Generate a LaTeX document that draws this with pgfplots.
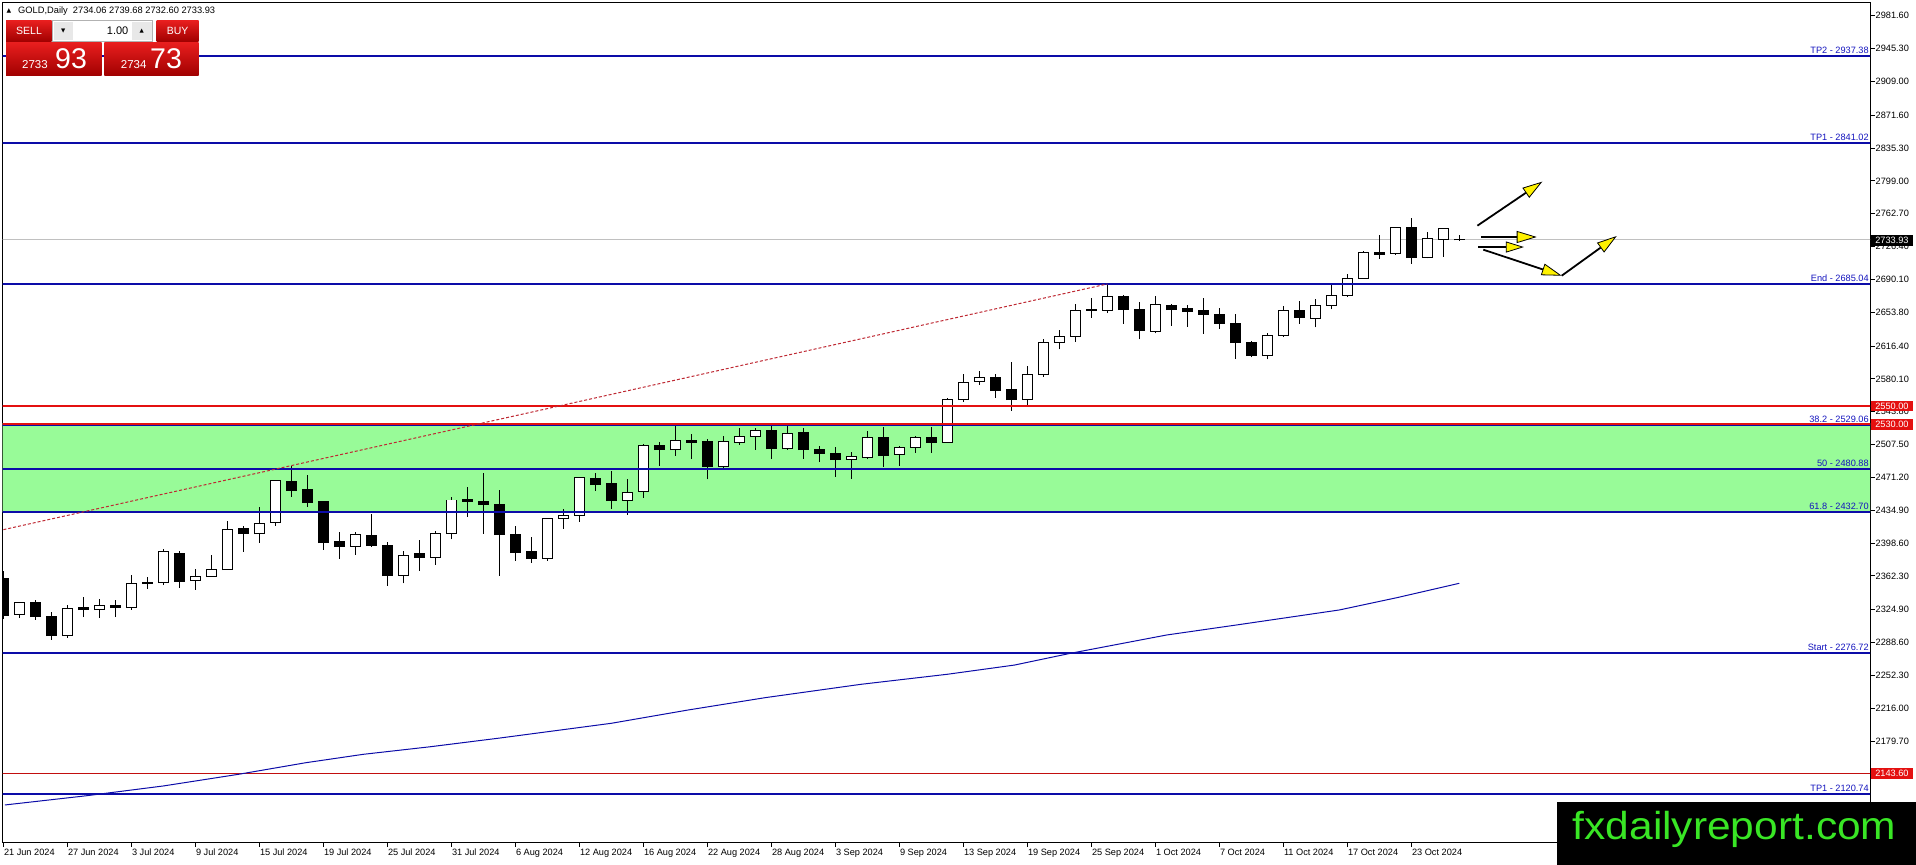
\documentclass[border=0pt]{standalone}
\usepackage{fontspec}
\setmainfont{Liberation Sans}
\newfontfamily\djv{DejaVu Sans}
\usepackage{graphicx}
\usepackage{pgfplots}
\pgfplotsset{compat=1.18}
\usepackage{pgfplotstable}
\usetikzlibrary{calc,arrows.meta}

\definecolor{lvlblue}{RGB}{12,12,168}
\definecolor{lbltxt}{RGB}{20,20,190}
\definecolor{lvlred}{RGB}{228,16,16}
\definecolor{zone}{RGB}{152,251,152}
\definecolor{trend}{RGB}{190,40,50}
\definecolor{wm}{RGB}{57,230,37}
\definecolor{btnTop}{RGB}{232,30,30}
\definecolor{btnBot}{RGB}{160,0,0}
\definecolor{bidgray}{RGB}{192,192,192}

\pgfplotstableread{
x o h l c
0 2358.9 2367.7 2314.6 2319.0
1 2319.8 2333.8 2316.1 2333.1
2 2333.1 2335.3 2313.9 2317.2
3 2317.6 2322.4 2291.8 2296.2
4 2296.2 2330.1 2294.0 2326.4
5 2326.8 2339.0 2316.8 2325.0
6 2325.0 2336.7 2316.1 2329.7
7 2330.1 2335.6 2316.8 2327.2
8 2327.2 2363.3 2325.0 2354.1
9 2355.5 2361.1 2348.2 2353.7
10 2354.8 2392.0 2352.2 2389.8
11 2387.6 2389.8 2349.3 2356.6
12 2357.0 2369.9 2347.1 2361.8
13 2361.4 2385.4 2361.4 2369.5
14 2369.2 2423.0 2369.2 2413.8
15 2414.9 2417.1 2389.1 2409.0
16 2409.0 2438.5 2399.0 2420.4
17 2421.5 2468.7 2417.8 2467.9
18 2467.2 2484.2 2449.9 2456.5
19 2457.3 2473.9 2438.5 2443.3
20 2444.0 2444.7 2391.3 2399.0
21 2400.5 2410.4 2381.3 2394.6
22 2395.0 2410.4 2385.8 2408.2
23 2407.1 2431.1 2394.6 2395.7
24 2396.1 2399.4 2351.5 2362.5
25 2362.9 2389.5 2354.1 2385.0
26 2386.5 2401.6 2368.1 2382.4
27 2382.8 2411.9 2374.7 2409.3
28 2409.3 2449.2 2402.7 2446.2
29 2447.3 2460.6 2427.8 2444.7
30 2444.7 2476.1 2409.0 2441.0
31 2441.4 2457.3 2362.5 2407.9
32 2408.2 2417.5 2378.8 2388.0
33 2389.5 2405.3 2376.9 2381.3
34 2381.3 2426.7 2378.8 2425.9
35 2425.9 2436.3 2414.5 2429.3
36 2429.3 2472.0 2422.3 2471.3
37 2470.2 2476.1 2456.5 2463.2
38 2463.9 2478.3 2436.3 2445.5
39 2445.8 2469.4 2430.0 2454.7
40 2455.8 2508.1 2448.8 2506.7
41 2507.0 2510.0 2484.2 2501.9
42 2501.9 2528.0 2495.2 2512.2
43 2512.2 2519.2 2491.9 2510.3
44 2511.1 2513.3 2469.1 2483.1
45 2483.1 2517.0 2481.2 2511.1
46 2510.0 2526.2 2507.4 2516.6
47 2516.6 2525.5 2501.5 2523.2
48 2523.2 2528.0 2491.9 2502.6
49 2503.0 2528.0 2501.5 2519.9
50 2520.3 2525.8 2491.9 2501.9
51 2502.2 2505.9 2488.2 2497.4
52 2497.8 2504.8 2472.0 2490.8
53 2491.2 2499.3 2469.8 2494.1
54 2493.0 2522.5 2491.9 2515.1
55 2515.5 2527.3 2483.1 2495.2
56 2496.7 2505.9 2484.2 2504.1
57 2504.4 2517.3 2498.5 2515.5
58 2515.5 2527.3 2498.5 2509.6
59 2510.0 2559.0 2510.0 2557.5
60 2557.1 2585.5 2554.9 2576.3
61 2577.4 2588.5 2573.7 2581.1
62 2581.1 2585.5 2559.4 2567.1
63 2568.6 2598.4 2545.0 2557.1
64 2557.1 2594.4 2550.5 2585.2
65 2584.8 2624.2 2582.6 2620.5
66 2620.5 2634.2 2612.8 2627.2
67 2627.2 2662.9 2621.3 2655.9
68 2655.9 2669.2 2647.8 2656.3
69 2655.9 2685.0 2652.9 2671.4
70 2671.4 2672.9 2641.2 2656.7
71 2657.0 2664.7 2623.9 2633.4
72 2632.7 2671.4 2630.5 2662.5
73 2661.4 2662.9 2638.9 2656.7
74 2657.4 2661.8 2637.9 2654.4
75 2655.2 2669.2 2630.1 2651.5
76 2651.7 2658.1 2635.8 2641.4
77 2641.9 2651.5 2602.5 2620.2
78 2620.5 2622.4 2604.0 2605.8
79 2605.8 2630.5 2601.7 2628.3
80 2627.9 2660.3 2626.8 2655.9
81 2655.9 2665.9 2641.2 2648.2
82 2647.4 2668.5 2637.1 2661.1
83 2661.4 2684.7 2657.0 2672.1
84 2672.5 2696.1 2670.7 2690.9
85 2690.9 2721.2 2690.9 2720.1
86 2720.1 2739.2 2713.1 2717.8
87 2719.0 2748.4 2717.5 2747.7
88 2747.7 2758.0 2707.2 2714.2
89 2714.5 2742.5 2713.4 2735.2
90 2734.4 2746.6 2715.3 2746.2
91 2734.06 2739.68 2732.60 2733.93
}\candles

\pgfplotstableread{
x ma
0.1 2109.0
5.2 2119.2
10 2130.0
14.7 2142.9
18.9 2155.7
22.5 2165.0
26.7 2173.4
30.9 2182.7
38 2199.3
42.8 2214.0
47.6 2227.6
53.6 2242.4
59 2253.5
63.2 2263.7
66.7 2276.7
72.7 2296.9
77.5 2309.1
83.5 2324.6
87.1 2338.2
91 2354.1
}\matable

\begin{document}
\begin{tikzpicture}
\begin{axis}[
  scale only axis, width=1867.5pt, height=840pt,
  xmin=-0.05, xmax=116.67, ymin=2067.5, ymax=2996.3,
  axis line style={black, line width=1pt},
  clip mode=individual,
  xtick={0,4,...,88},
  xticklabels={21 Jun 2024,27 Jun 2024,3 Jul 2024,9 Jul 2024,15 Jul 2024,19 Jul 2024,25 Jul 2024,31 Jul 2024,6 Aug 2024,12 Aug 2024,16 Aug 2024,22 Aug 2024,28 Aug 2024,3 Sep 2024,9 Sep 2024,13 Sep 2024,19 Sep 2024,25 Sep 2024,1 Oct 2024,7 Oct 2024,11 Oct 2024,17 Oct 2024,23 Oct 2024},
  xtick pos=bottom, ytick pos=right, yticklabel pos=right,
  tick align=outside, major tick length=4.5pt,
  tick style={black, line width=1pt},
  ytick={2981.60,2945.30,2909.00,2871.60,2835.30,2799.00,2762.70,2726.40,2690.10,2653.80,2616.40,2580.10,2543.80,2507.50,2471.20,2434.90,2398.60,2362.30,2324.90,2288.60,2252.30,2216.00,2179.70},
  yticklabels={2981.60,2945.30,2909.00,2871.60,2835.30,2799.00,2762.70,2726.40,2690.10,2653.80,2616.40,2580.10,2543.80,2507.50,2471.20,2434.90,2398.60,2362.30,2324.90,2288.60,2252.30,2216.00,2179.70},
  xticklabel style={anchor=north west, inner sep=0pt, xshift=0.5pt, yshift=-1.5pt, font=\fontsize{9.2}{10}\selectfont},
  yticklabel style={anchor=west, inner sep=0pt, xshift=1pt, font=\fontsize{9.2}{10}\selectfont},
]
% zone
\addplot[fill=zone, draw=none, forget plot] coordinates {(-2,2432.70) (120,2432.70) (120,2531.5) (-2,2531.5)} -- cycle;
% bid line
\addplot[bidgray, line width=1pt, forget plot] coordinates {(-2,2733.93) (120,2733.93)};
% wicks
\addplot[draw=none, mark=none, forget plot, error bars/.cd, y dir=plus, y explicit, error mark=none, error bar style={draw=black, line width=1pt}]
  table[x=x, y=l, y error plus expr={\thisrow{h}-\thisrow{l}}] {\candles};
% bodies (black outline / black fill)
\addplot[draw=none, mark=none, forget plot, error bars/.cd, y dir=plus, y explicit, error mark=none, error bar style={draw=black, line width=11pt}]
  table[x=x, y expr={min(\thisrow{o},\thisrow{c})-0.55}, y error plus expr={abs(\thisrow{c}-\thisrow{o})+1.1}] {\candles};
% white interiors for bullish candles
\addplot[draw=none, mark=none, forget plot, error bars/.cd, y dir=plus, y explicit, error mark=none, error bar style={draw=white, line width=9pt}]
  table[x=x, y expr={(\thisrow{c}-\thisrow{o}>1.6) ? (\thisrow{o}+0.55) : nan}, y error plus expr={\thisrow{c}-\thisrow{o}-1.1}] {\candles};
% levels
\addplot[lvlblue, line width=2pt, forget plot] coordinates {(-2,2937.38) (120,2937.38)};
\addplot[lvlblue, line width=2pt, forget plot] coordinates {(-2,2841.02) (120,2841.02)};
\addplot[lvlblue, line width=2pt, forget plot] coordinates {(-2,2685.04) (120,2685.04)};
\addplot[lvlred, line width=2pt, forget plot] coordinates {(-2,2550.00) (120,2550.00)};
\addplot[lvlblue, line width=2pt, forget plot] coordinates {(-2,2529.06) (120,2529.06)};
\addplot[lvlred, line width=2pt, forget plot] coordinates {(-2,2530.60) (120,2530.60)};
\addplot[lvlblue, line width=2pt, forget plot] coordinates {(-2,2480.88) (120,2480.88)};
\addplot[lvlblue, line width=2pt, forget plot] coordinates {(-2,2432.70) (120,2432.70)};
\addplot[lvlblue, line width=2pt, forget plot] coordinates {(-2,2276.72) (120,2276.72)};
\addplot[lvlred!85!black, line width=1pt, forget plot] coordinates {(-2,2143.60) (120,2143.60)};
\addplot[lvlblue, line width=2pt, forget plot] coordinates {(-2,2120.74) (120,2120.74)};
% moving average
\addplot[lvlblue, line width=1pt, forget plot] table[x=x, y=ma] {\matable};
% trend line
\addplot[trend, line width=1pt, dash pattern=on 3pt off 2pt, forget plot] coordinates {(-0.3,2412.2) (69,2685.04)};
% arrows
\addplot[black, line width=1.8pt, -{Triangle[length=20pt,width=12pt,fill=yellow,line width=0.8pt]}, forget plot] coordinates {(92.13,2749.5) (96.19,2798.2)};
\addplot[black, line width=1.8pt, -{Triangle[length=20pt,width=12pt,fill=yellow,line width=0.8pt]}, forget plot] coordinates {(92.36,2737.0) (95.84,2737.0)};
\addplot[black, line width=1.8pt, -{Triangle[length=18pt,width=11pt,fill=yellow,line width=0.8pt]}, forget plot] coordinates {(92.19,2725.9) (95.04,2725.9)};
\addplot[black, line width=1.8pt, -{Triangle[length=20pt,width=12pt,fill=yellow,line width=0.8pt]}, forget plot] coordinates {(92.5,2723.0) (97.4,2694.2)};
\addplot[black, line width=1.8pt, -{Triangle[length=20pt,width=12pt,fill=yellow,line width=0.8pt]}, forget plot] coordinates {(97.4,2694.2) (100.84,2738.1)};
% level labels
\begin{scope}[every node/.style={anchor=base east, inner sep=0pt, text=lbltxt, font=\fontsize{9.2}{10}\selectfont}]
\node[yshift=2.5pt] at (axis cs:116.6,2937.38) {TP2 - 2937.38};
\node[yshift=2.5pt] at (axis cs:116.6,2841.02) {TP1 - 2841.02};
\node[yshift=2.5pt] at (axis cs:116.6,2685.04) {End - 2685.04};
\node[yshift=2.5pt] at (axis cs:116.6,2529.06) {38.2 - 2529.06};
\node[yshift=2.5pt] at (axis cs:116.6,2480.88) {50 - 2480.88};
\node[yshift=2.5pt] at (axis cs:116.6,2432.70) {61.8 - 2432.70};
\node[yshift=2.5pt] at (axis cs:116.6,2276.72) {Start - 2276.72};
\node[yshift=2.5pt] at (axis cs:116.6,2120.74) {TP1 - 2120.74};
\end{scope}
\end{axis}
\pgfresetboundingbox
\path[use as bounding box] ($(current axis.north west)+(-2.5pt,2.5pt)$) rectangle ($(current axis.south east)+(46pt,-22.5pt)$);
\begin{scope}[shift={($(current axis.north west)+(-2.5pt,2.5pt)$)}, x=1pt, y=-1pt]
% price boxes on the right axis
\begin{scope}[every node/.style={anchor=west, inner xsep=0pt, inner ysep=0pt, minimum height=10.5pt, minimum width=42pt, text=white, font=\fontsize{9.2}{10}\selectfont}]
\node[fill=lvlred] at (1870.7,406.1) {2550.00};
\node[fill=lvlred] at (1870.7,424.6) {2530.00};
\node[fill=lvlred] at (1870.7,773.7) {2143.60};
\node[fill=black] at (1870.7,240.5) {2733.93};
\end{scope}
% header
\node[anchor=center, inner sep=0pt, font=\djv\fontsize{6}{6}\selectfont] at (9,10.5) {▲};
\node[anchor=west, inner sep=0pt, font=\fontsize{9.3}{10}\selectfont] at (18,11) {GOLD,Daily\ \ 2734.06 2739.68 2732.60 2733.93};
% trade panel
\shade[top color=btnTop, bottom color=btnBot] (6,20.7) rectangle (51.7,41.7);
\node[text=white, font=\fontsize{10.5}{12}\selectfont] at (29,31.2) {SELL};
\fill[white] (52.3,20.7) rectangle (152.7,41.7);
\draw[gray!60, line width=0.8pt] (52.3,20.7) rectangle (152.7,41.7);
\fill[gray!18] (53.5,22) rectangle (73,40.5);
\fill[gray!18] (132,22) rectangle (151.5,40.5);
\node[font=\djv\fontsize{5.5}{6}\selectfont] at (63.2,31.2) {▼};
\node[font=\djv\fontsize{5.5}{6}\selectfont] at (141.7,31.2) {▲};
\node[anchor=east, inner sep=0pt, font=\fontsize{11}{12}\selectfont] at (128.5,31.2) {1.00};
\shade[top color=btnTop, bottom color=btnBot] (156.7,20.7) rectangle (198.7,41.7);
\node[text=white, font=\fontsize{10.5}{12}\selectfont] at (177.7,31.2) {BUY};
\shade[top color=btnTop, bottom color=btnBot] (6,42.7) rectangle (101.7,75.7);
\node[anchor=base west, inner sep=0pt, text=white, font=\fontsize{11.5}{12}\selectfont] at (22,68.3) {2733};
\node[anchor=base west, inner sep=0pt, text=white, font=\fontsize{28.5}{30}\selectfont] at (55,68.3) {93};
\shade[top color=btnTop, bottom color=btnBot] (104.3,42.7) rectangle (198.7,75.7);
\node[anchor=base west, inner sep=0pt, text=white, font=\fontsize{11.5}{12}\selectfont] at (120.7,68.3) {2734};
\node[anchor=base west, inner sep=0pt, text=white, font=\fontsize{28.5}{30}\selectfont] at (150,68.3) {73};
% watermark
\fill[black] (1557.3,802) rectangle (1916,865);
\node[anchor=base, inner sep=0pt, text=wm, font=\fontsize{39}{40}\selectfont] at (1734.5,839.3) {\scalebox{1.09}[1]{fxdailyreport.com}};
\end{scope}
\end{tikzpicture}
\end{document}
